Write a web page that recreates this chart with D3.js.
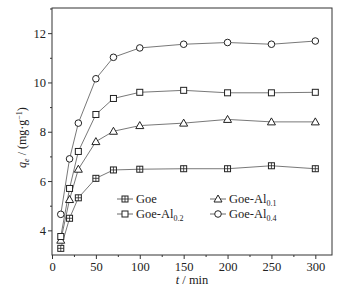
<!DOCTYPE html>
<html><head><meta charset="utf-8">
<script src="https://cdn.jsdelivr.net/npm/d3@7"></script>
<style>
html,body{margin:0;padding:0;background:#fff;}
svg{display:block;}
text{font-family:"Liberation Serif","Times New Roman",Times,serif;fill:#222;}
</style></head>
<body>
<svg id="c" width="343" height="288"></svg>
<script>
const times = [10, 20, 30, 50, 70, 100, 150, 200, 250, 300];
const goe    = [3.27, 4.49, 5.32, 6.11, 6.45, 6.48, 6.5, 6.5, 6.62, 6.5];
const goeAl01 = [3.6, 5.25, 6.48, 7.6, 8.02, 8.25, 8.35, 8.5, 8.4, 8.4];
const goeAl02 = [3.75, 5.7, 7.2, 8.7, 9.35, 9.6, 9.68, 9.58, 9.58, 9.6];
const goeAl04 = [4.65, 6.9, 8.35, 10.15, 11.02, 11.4, 11.55, 11.62, 11.55, 11.68];
const xTicks = [0, 50, 100, 150, 200, 250, 300];
const yTicks = [4, 6, 8, 10, 12];
const seriesNames = ["Goe", "Goe-Al0.1", "Goe-Al0.2", "Goe-Al0.4"];
const markers = ["sqcross", "triangle", "square", "circle"];

const series = [goe, goeAl01, goeAl02, goeAl04].map((v, i) => ({name: seriesNames[i], values: v, marker: markers[i]}));

const FONT = '"Liberation Serif","Times New Roman",Times,serif';
const svg = d3.select("#c");
const L = 52, R = 332, T = 8, B = 255;
const x = d3.scaleLinear().domain([0, 319]).range([L, R]);
const y = d3.scaleLinear().domain([3, 13.02]).range([B, T]);

// frame
svg.append("rect").attr("x", L).attr("y", T).attr("width", R - L).attr("height", B - T)
  .attr("fill", "none").attr("stroke", "#333").attr("stroke-width", 1);

// x axis
const xa = svg.append("g").attr("transform", `translate(0,${B})`)
  .call(d3.axisBottom(x).tickValues(xTicks).tickSize(4).tickPadding(3).tickFormat(d3.format("d")));
xa.select(".domain").remove();
xa.selectAll("line").attr("stroke", "#333");
xa.selectAll("text").attr("font-size", 12.5).attr("fill", "#222").style("font-family", FONT);
const xm = svg.append("g").attr("transform", `translate(0,${B})`)
  .call(d3.axisBottom(x).tickValues(d3.range(25, 319, 50)).tickSize(2).tickFormat(""));
xm.select(".domain").remove();
xm.selectAll("line").attr("stroke", "#333");

// y axis
const ya = svg.append("g").attr("transform", `translate(${L},0)`)
  .call(d3.axisLeft(y).tickValues(yTicks).tickSize(4).tickPadding(2).tickFormat(d3.format("d")));
ya.select(".domain").remove();
ya.selectAll("line").attr("stroke", "#333");
ya.selectAll("text").attr("font-size", 12.5).attr("fill", "#222").style("font-family", FONT);
const ym = svg.append("g").attr("transform", `translate(${L},0)`)
  .call(d3.axisLeft(y).tickValues([5, 7, 9, 11, 13]).tickSize(2).tickFormat(""));
ym.select(".domain").remove();
ym.selectAll("line").attr("stroke", "#333");

// axis titles
const xt = svg.append("text").attr("x", (L + R) / 2).attr("y", 284).attr("text-anchor", "middle").attr("font-size", 12.5).style("font-family", FONT);
xt.append("tspan").attr("font-style", "italic").text("t");
xt.append("tspan").text(" / min");

const yt = svg.append("text").attr("transform", `translate(26,${(T + B) / 2 + 6}) rotate(-90)`)
  .attr("text-anchor", "middle").attr("font-size", 12).style("font-family", FONT);
yt.append("tspan").attr("font-style", "italic").text("q");
yt.append("tspan").attr("font-style", "italic").attr("font-size", 8).attr("dy", 3).text("e");
yt.append("tspan").attr("dy", -3).text(" / (mg·g");
yt.append("tspan").attr("font-size", 8).attr("dy", -4).text("−1");
yt.append("tspan").attr("dy", 4).text(")");

function drawMarker(g, type, cx, cy) {
  const s = 3;
  if (type === "square" || type === "sqcross") {
    g.append("rect").attr("x", cx - s).attr("y", cy - s).attr("width", 2 * s).attr("height", 2 * s)
      .attr("fill", "#fff").attr("stroke", "#222").attr("stroke-width", 1);
    if (type === "sqcross") {
      g.append("path").attr("d", `M${cx - s},${cy}H${cx + s}M${cx},${cy - s}V${cy + s}`)
        .attr("stroke", "#222").attr("stroke-width", 0.8);
    }
  } else if (type === "triangle") {
    g.append("path").attr("d", `M${cx},${cy - 4}L${cx + 4},${cy + 3}L${cx - 4},${cy + 3}Z`)
      .attr("fill", "#fff").attr("stroke", "#222").attr("stroke-width", 1);
  } else {
    g.append("circle").attr("cx", cx).attr("cy", cy).attr("r", 3.3)
      .attr("fill", "#fff").attr("stroke", "#222").attr("stroke-width", 1);
  }
}

const line = d3.line().x((d, i) => x(times[i])).y(d => y(d));
series.forEach(s => {
  svg.append("path").attr("d", line(s.values)).attr("fill", "none").attr("stroke", "#555").attr("stroke-width", 0.8);
});
series.forEach(s => {
  const g = svg.append("g");
  s.values.forEach((v, i) => drawMarker(g, s.marker, x(times[i]), y(v)));
});

// legend
const legPos = [[117, 199], [210, 199], [117, 214], [210, 214]];
series.forEach((s, i) => {
  const [lx, ly] = legPos[i];
  const g = svg.append("g");
  g.append("line").attr("x1", lx).attr("x2", lx + 16).attr("y1", ly).attr("y2", ly).attr("stroke", "#444").attr("stroke-width", 0.8);
  drawMarker(g, s.marker, lx + 8, ly);
  const t = g.append("text").attr("x", lx + 19).attr("y", ly + 4).attr("font-size", 12.5).style("font-family", FONT);
  const m = s.name.match(/^(.*Al)(0\.\d)$/);
  if (m) {
    t.append("tspan").text(m[1]);
    t.append("tspan").attr("font-size", 8).attr("dy", 3).attr("fill", "#222").text(m[2]);
  } else {
    t.text(s.name);
  }
});
</script>
</body></html>
